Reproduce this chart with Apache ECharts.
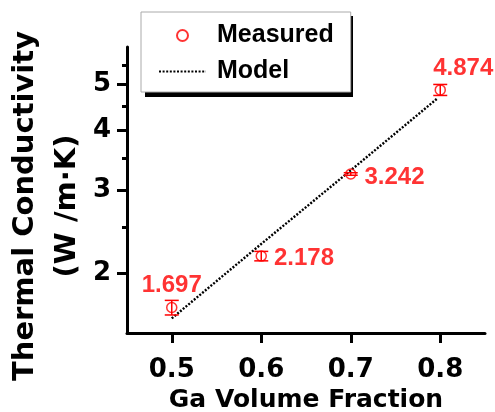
<!DOCTYPE html>
<html><head><meta charset="utf-8">
<script src="https://cdn.jsdelivr.net/npm/echarts@6/dist/echarts.min.js"></script>
<style>html,body{margin:0;padding:0;background:#fff}#c{width:495px;height:412px}</style>
</head><body><div id="c"></div>
<script>
// ---- data ----
const fractions = [0.5, 0.6, 0.7, 0.8];
const measured = [1.697, 2.178, 3.242, 4.874];
const measuredErr = [0.06, 0.05, 0.02, 0.13];
const modelX = [0.5, 0.6, 0.7, 0.797];
const modelY = [1.61, 2.31, 3.30, 4.68];
const xTicks = [0.5, 0.6, 0.7, 0.8];
const yTicks = [2, 3, 4, 5];
const yMinorTicks = [2.5, 3.5, 4.5, 5.5];

// ---- styles ----
const RED = '#ff0000';
const tickFont = {fontFamily: 'DejaVu Sans', fontWeight: 'bold', fontSize: 26, color: '#000'};
const labelPlace = [
  {position: 'top', distance: 4, offset: [0, 0]},
  {position: 'right', distance: 7, offset: [0, 2]},
  {position: 'right', distance: 8, offset: [0, 3]},
  {position: 'top', distance: 4, offset: [23, 0]}
];

const chart = echarts.init(document.getElementById('c'), null, {renderer: 'canvas'});
chart.setOption({
  animation: false,
  backgroundColor: '#fff',
  grid: {left: 127, right: 10, top: 47, bottom: 79, containLabel: false, outerBoundsMode: 'none'},
  legend: {
    orient: 'vertical', left: 141, top: 12, z: 5,
    data: ['Measured', {name: 'Model', itemStyle: {opacity: 0}}],
    itemWidth: 47, itemHeight: 11, itemGap: 11,
    padding: [11, 17, 8, 17],
    backgroundColor: '#fff', borderColor: '#aaa', borderWidth: 1,
    textStyle: {fontFamily: 'Liberation Sans', fontWeight: 'bold', fontSize: 25, color: '#000', padding: [0, 0, 0, 6]}
  },
  xAxis: {
    type: 'value', min: 0.45, max: 0.85,
    name: 'Ga Volume Fraction', nameLocation: 'middle', nameGap: 53,
    nameTextStyle: {fontFamily: 'DejaVu Sans', fontWeight: 'bold', fontSize: 25, color: '#000'},
    axisLine: {show: true, onZero: false, lineStyle: {color: '#000', width: 3}},
    axisTick: {show: true, customValues: xTicks, length: 10, lineStyle: {color: '#000', width: 3}},
    axisLabel: Object.assign({customValues: xTicks, margin: 24, formatter: v => Number(v).toFixed(1)}, tickFont),
    splitLine: {show: false}
  },
  yAxis: [{
    type: 'log', logBase: 10, min: 1.5, max: 6,
    axisLine: {show: true, onZero: false, lineStyle: {color: '#000', width: 3}},
    axisTick: {show: true, customValues: yTicks, length: 10, lineStyle: {color: '#000', width: 3}},
    axisLabel: Object.assign({customValues: yTicks, margin: 16, formatter: v => String(Math.round(v))}, tickFont),
    splitLine: {show: false}, minorTick: {show: false}
  }, {
    type: 'log', logBase: 10, min: 1.5, max: 6, position: 'left',
    axisLine: {show: false},
    axisTick: {show: true, customValues: yMinorTicks, length: 5, lineStyle: {color: '#000', width: 3}},
    axisLabel: {show: false},
    splitLine: {show: false}
  }],
  graphic: [{
    type: 'rect', z: 0, shape: {x: 145, y: 16, width: 208, height: 81},
    style: {fill: '#000'}
  }, {
    type: 'text', x: 46, y: 206, rotation: Math.PI / 2,
    style: {
      text: 'Thermal Conductivity\n(W /m·K)',
      font: 'bold 29px "DejaVu Sans"', fill: '#000',
      align: 'center', verticalAlign: 'middle', lineHeight: 42
    }
  }],
  series: [{
    name: 'Model', type: 'line', symbol: 'none', showSymbol: false,
    data: modelX.map((x, i) => [x, modelY[i]]),
    itemStyle: {color: '#000'},
    lineStyle: {color: '#000', width: 2.4, type: [2, 1.6]},
    z: 2
  }, {
    name: 'Error', type: 'custom',
    data: fractions.map((x, i) => [x, measured[i], measuredErr[i]]),
    encode: {x: 0, y: 1},
    renderItem: function (params, api) {
      const x = api.value(0), y = api.value(1), e = api.value(2);
      const top = api.coord([x, y + e]);
      const bot = api.coord([x, y - e]);
      const hw = 7;
      const st = {stroke: RED, lineWidth: 1.5};
      return {type: 'group', children: [
        {type: 'line', shape: {x1: top[0], y1: top[1], x2: bot[0], y2: bot[1]}, style: st},
        {type: 'line', shape: {x1: top[0] - hw, y1: top[1], x2: top[0] + hw, y2: top[1]}, style: st},
        {type: 'line', shape: {x1: bot[0] - hw, y1: bot[1], x2: bot[0] + hw, y2: bot[1]}, style: st}
      ]};
    },
    z: 3
  }, {
    name: 'Measured', type: 'scatter', symbol: 'circle', symbolSize: 10,
    itemStyle: {color: 'rgba(255,255,255,0)', borderColor: RED, borderWidth: 1.5},
    data: fractions.map((x, i) => ({
      value: [x, measured[i]],
      label: Object.assign({show: true}, labelPlace[i])
    })),
    label: {
      show: true, color: RED, fontFamily: 'Liberation Sans', fontWeight: 'bold', fontSize: 24,
      formatter: p => p.value[1].toFixed(3)
    },
    z: 4
  }]
});
</script>
</body></html>
